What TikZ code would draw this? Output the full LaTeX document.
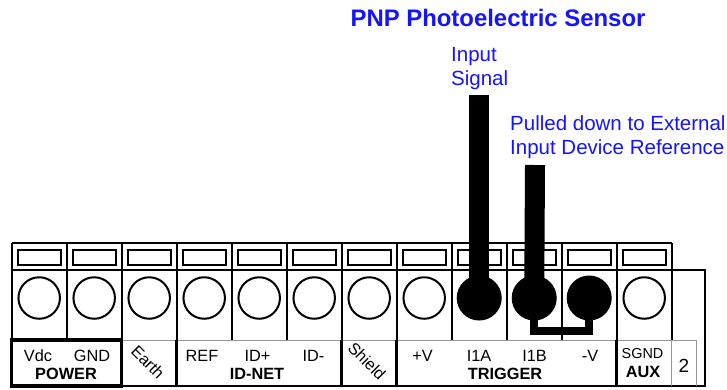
\documentclass[tikz,border=0pt]{standalone}
\usepackage{fontspec}
\setmainfont{Liberation Sans}
\definecolor{lblue}{RGB}{20,20,255}
\definecolor{lgray}{RGB}{150,150,150}
\begin{document}
\begin{tikzpicture}[x=1pt,y=-1pt,
  body/.style={draw=black,line width=2pt},
  slot/.style={draw=black,line width=2pt},
  thick line/.style={draw=black,line width=3.2pt},
  thin gray/.style={draw=lgray,line width=0.9pt},
  hole/.style={circle,draw=black,line width=2pt,minimum size=41.5pt,inner sep=0pt},
  fhole/.style={circle,fill=black,draw=black,line width=1pt,minimum size=44pt,inner sep=0pt},
  wire/.style={draw=black,line width=20pt},
  jumper/.style={draw=black,line width=8pt,line join=miter},
  lbl/.style={font=\fontsize{16.3}{18}\selectfont,anchor=base,inner sep=0pt},
  blbl/.style={font=\bfseries\fontsize{16.3}{18}\selectfont,anchor=base,inner sep=0pt},
  rlbl/.style={font=\fontsize{16.3}{18}\selectfont,rotate=-45,inner sep=0pt},
  note/.style={font=\fontsize{20.5}{22}\selectfont,text=lblue,anchor=base west,inner sep=0pt},
  titlestyle/.style={font=\bfseries\fontsize{23.9}{26}\selectfont,text=lblue,anchor=base,inner sep=0pt}
]
\useasboundingbox (0,0) rectangle (727,389);

% column separators and slots
\foreach \k in {0,...,12}{
  \pgfmathsetmacro\xl{11.7+55*\k}
  \draw[body] (\xl,243) -- (\xl,340);
}
\foreach \k in {0,...,11}{
  \pgfmathsetmacro\xl{11.7+55*\k}
  \draw[slot] (\xl+6,249.5) rectangle (\xl+49,264.5);
}
% outline of block
\draw[body] (11.7,243) -- (671.7,243);
\draw[body] (11.7,270) -- (705,270) -- (705,386);
\draw[body] (11.7,243) -- (11.7,386);
\draw[draw=black,line width=2.4pt] (11.7,386) -- (706,386);

% empty holes
\foreach \k in {0,...,7,11}{
  \pgfmathsetmacro\xc{39.2+55*\k}
  \node[hole] (h\k) at (\xc,298) {};
}

% label area lines
\draw[thin gray] (121.7,340) -- (696,340);
\draw[thin gray] (671.7,340) -- (671.7,386);
\draw[thin gray] (696,340) -- (696,386);
\draw[thick line] (11.7,340) rectangle (121.7,386);
\foreach \x in {176.7,341.7,396.7,616.7}{
  \draw[thick line] (\x,340) -- (\x,387);
}

% jumper and wired terminals
\coordinate (j1) at (534.2,331);
\coordinate (j2) at (589.2,331);
\coordinate (w1top) at (479.2,95);
\coordinate (w2top) at (535,165);
\node[fhole] (h8) at (479.2,298) {};
\node[fhole] (h9) at (534.2,298) {};
\node[fhole] (h10) at (589.2,298) {};
\draw[jumper] (h9.center) -- (j1) -- (j2) -- (h10.center);
\draw[wire] (w1top) -- (h8.center);
\draw[wire] (w2top) -- (h9.center);

% titles / notes
\node[titlestyle] (title) at (498,26) {PNP Photoelectric Sensor};
\node[note] (in1) at (451,61.7) {Input};
\node[note] (in2) at (451,85) {Signal};
\node[note] (pd1) at (510,130) {Pulled down to External};
\node[note] (pd2) at (510,154) {Input Device Reference};

% terminal labels
\node[lbl] (tVdc) at (38,361) {Vdc};
\node[lbl] (tGND) at (92,361) {GND};
\node[blbl] (gPOWER) at (66,379) {POWER};
\node[rlbl] (tEarth) at (148,362) {Earth};
\node[lbl] (tREF) at (202,361) {REF};
\node[lbl] (tIDp) at (257.5,361) {ID+};
\node[lbl] (tIDm) at (313.5,361) {ID-};
\node[blbl] (gIDNET) at (257,379) {ID-NET};
\node[rlbl] (tShield) at (367,361) {Shield};
\node[lbl] (tVp) at (422.5,361) {+V};
\node[lbl] (tI1A) at (479,361) {I1A};
\node[lbl] (tI1B) at (534.5,361) {I1B};
\node[lbl] (tVm) at (590,361) {-V};
\node[blbl] (gTRIG) at (505,379) {TRIGGER};
\node[font=\fontsize{14.4}{16}\selectfont,anchor=base,inner sep=0pt] (tSGND) at (642.5,358) {SGND};
\node[blbl] (gAUX) at (643,377) {AUX};
\node[font=\fontsize{19}{21}\selectfont,anchor=base,inner sep=0pt] (t2) at (684,372) {2};
\end{tikzpicture}
\end{document}
